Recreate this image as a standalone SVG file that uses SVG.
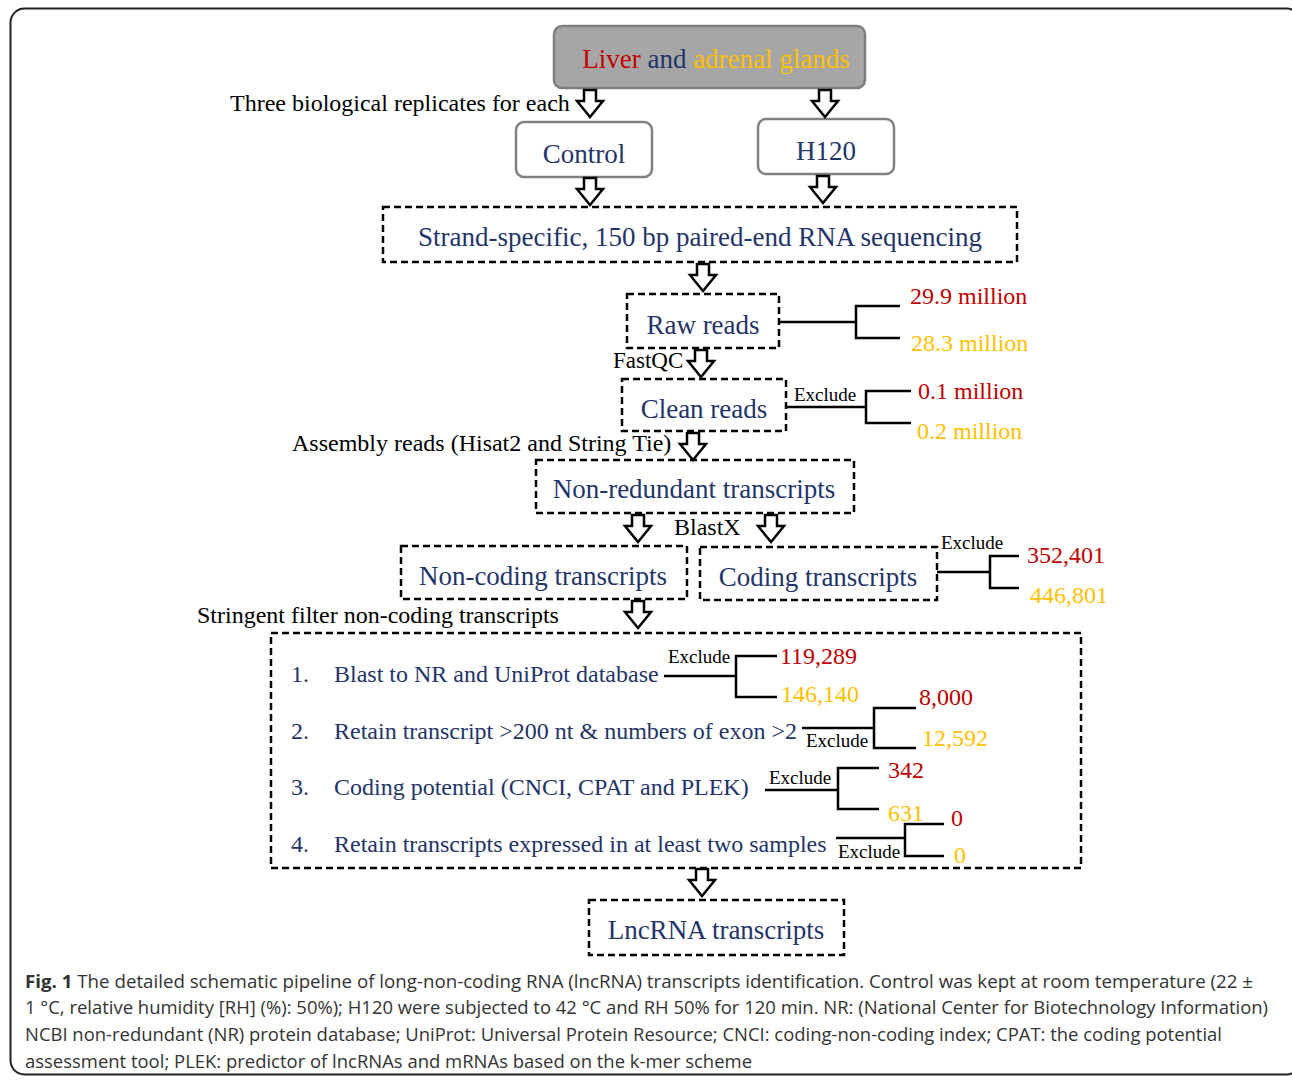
<svg xmlns="http://www.w3.org/2000/svg" xmlns:xlink="http://www.w3.org/1999/xlink" width="1292" height="1080" viewBox="0 0 1292 1080">
<style>
.ser{font-family:"Liberation Serif","Times New Roman",serif}
.blue{fill:#1f3469}
.red{fill:#c00000}
.org{fill:#ffc000}
.blk{fill:#000}
.dash{fill:none;stroke:#000;stroke-width:2.5;stroke-dasharray:7 4}
.solid{fill:#fff;stroke:#808080;stroke-width:2.5}
.ln{fill:none;stroke:#000;stroke-width:2.5}
.arr{fill:#fff;stroke:#000;stroke-width:2.5;stroke-linejoin:miter}
.cap{font-family:"Open Sans","Noto Sans",sans-serif;font-size:18px;fill:#333}
</style>
<defs>
<path id="arr" d="M-6,0 H6 V11 H13 L0,27 L-13,11 H-6 Z"/>
</defs>
<rect width="1292" height="1080" fill="#fff"/>
<rect x="10.5" y="8.5" width="1290" height="1066" rx="14" fill="none" stroke="#222" stroke-width="2"/>

<g id="n-source">
<rect x="554" y="26" width="311" height="62" rx="8" fill="#a6a6a6" stroke="#7f7f7f" stroke-width="2.5"/>
<text x="716" y="68" text-anchor="middle" class="ser" font-size="27"><tspan class="red">Liver</tspan><tspan class="blue"> and </tspan><tspan class="org">adrenal glands</tspan></text>
</g>
<g id="n-control">
<rect x="516" y="122" width="136" height="55" rx="8" class="solid"/>
<text x="584" y="163" text-anchor="middle" class="ser blue" font-size="27">Control</text>
</g>
<g id="n-h120">
<rect x="758" y="119" width="136" height="55" rx="8" class="solid"/>
<text x="826" y="160" text-anchor="middle" class="ser blue" font-size="27">H120</text>
</g>
<g id="n-seq">
<rect x="383" y="207" width="634" height="55" class="dash"/>
<text x="700" y="246" text-anchor="middle" class="ser blue" font-size="27">Strand-specific, 150 bp paired-end RNA sequencing</text>
</g>
<g id="n-raw">
<rect x="627" y="294" width="152" height="54" class="dash"/>
<text x="703" y="334" text-anchor="middle" class="ser blue" font-size="27">Raw reads</text>
</g>
<g id="n-clean">
<rect x="622" y="379" width="164" height="52" class="dash"/>
<text x="704" y="418" text-anchor="middle" class="ser blue" font-size="27">Clean reads</text>
</g>
<g id="n-nonred">
<rect x="536" y="460" width="318" height="53" class="dash"/>
<text x="694" y="498" text-anchor="middle" class="ser blue" font-size="27">Non-redundant transcripts</text>
</g>
<g id="n-noncoding">
<rect x="401" y="546" width="286" height="53" class="dash"/>
<text x="543" y="585" text-anchor="middle" class="ser blue" font-size="27">Non-coding transcripts</text>
</g>
<g id="n-coding">
<rect x="700" y="547" width="237" height="53" class="dash"/>
<text x="818" y="586" text-anchor="middle" class="ser blue" font-size="27">Coding transcripts</text>
</g>
<g id="n-filter">
<rect x="271" y="633" width="810" height="235" class="dash"/>
<g class="ser blue" font-size="24">
<text x="291" y="682">1.</text><text x="334" y="682">Blast to NR and UniProt database</text>
<text x="291" y="739">2.</text><text x="334" y="739">Retain transcript &gt;200 nt &amp; numbers of exon &gt;2</text>
<text x="291" y="795">3.</text><text x="334" y="795">Coding potential (CNCI, CPAT and PLEK)</text>
<text x="291" y="852">4.</text><text x="334" y="852">Retain transcripts expressed in at least two samples</text>
</g>
</g>
<g id="n-lncrna">
<rect x="589" y="900" width="255" height="55" class="dash"/>
<text x="716" y="939" text-anchor="middle" class="ser blue" font-size="27">LncRNA transcripts</text>
</g>

<g id="connectors">
<use xlink:href="#arr" class="arr" transform="translate(590,90)"/>
<use xlink:href="#arr" class="arr" transform="translate(825,90)"/>
<use xlink:href="#arr" class="arr" transform="translate(590,178)"/>
<use xlink:href="#arr" class="arr" transform="translate(823,176)"/>
<use xlink:href="#arr" class="arr" transform="translate(703,264)"/>
<use xlink:href="#arr" class="arr" transform="translate(701,350)"/>
<use xlink:href="#arr" class="arr" transform="translate(693,433)"/>
<use xlink:href="#arr" class="arr" transform="translate(638,515)"/>
<use xlink:href="#arr" class="arr" transform="translate(771,515)"/>
<use xlink:href="#arr" class="arr" transform="translate(638,601)"/>
<use xlink:href="#arr" class="arr" transform="translate(702,869)"/>
<path class="ln" d="M779,322 H856 M900,306 H856 V338 H900"/>
<path class="ln" d="M786,407 H866 M911,391 H866 V423 H911"/>
<path class="ln" d="M937,572 H990 M1019,556 H990 V588 H1019"/>
<path class="ln" d="M664,676 H736 M777,656 H736 V697 H777"/>
<path class="ln" d="M802,728 H874 M916,708 H874 V748 H916"/>
<path class="ln" d="M765,790 H838 M879,768 H838 V809 H879"/>
<path class="ln" d="M836,838 H905 M944,824 H905 V856 H944"/>
</g>

<g class="ser" font-size="24">
<text x="230" y="111" class="blk">Three biological replicates for each</text>
<text x="613" y="368" class="blk" font-size="23">FastQC</text>
<text x="292" y="451" class="blk">Assembly reads (Hisat2 and String Tie)</text>
<text x="674" y="535" class="blk">BlastX</text>
<text x="197" y="623" class="blk">Stringent filter non-coding transcripts</text>
<text x="910" y="304" class="red">29.9 million</text>
<text x="911" y="351" class="org">28.3 million</text>
<text x="918" y="399" class="red">0.1 million</text>
<text x="917" y="439" class="org">0.2 million</text>
<text x="1027" y="563" class="red">352,401</text>
<text x="1030" y="603" class="org">446,801</text>
<text x="780" y="664" class="red">119,289</text>
<text x="781" y="702" class="org">146,140</text>
<text x="919" y="705" class="red">8,000</text>
<text x="922" y="746" class="org">12,592</text>
<text x="888" y="778" class="red">342</text>
<text x="888" y="821" class="org">631</text>
<text x="951" y="826" class="red">0</text>
<text x="954" y="863" class="org">0</text>
</g>
<g class="ser blk" font-size="19">
<text x="794" y="401">Exclude</text>
<text x="941" y="549">Exclude</text>
<text x="668" y="663">Exclude</text>
<text x="806" y="747">Exclude</text>
<text x="769" y="784">Exclude</text>
<text x="838" y="858">Exclude</text>
</g>

<g id="caption" class="cap">
<text x="25" y="988" textLength="1228" lengthAdjust="spacingAndGlyphs"><tspan font-weight="bold">Fig. 1</tspan> The detailed schematic pipeline of long-non-coding RNA (lncRNA) transcripts identification. Control was kept at room temperature (22 ±</text>
<text x="25" y="1014" textLength="1243" lengthAdjust="spacingAndGlyphs">1 °C, relative humidity [RH] (%): 50%); H120 were subjected to 42 °C and RH 50% for 120 min. NR: (National Center for Biotechnology Information)</text>
<text x="25" y="1041" textLength="1197" lengthAdjust="spacingAndGlyphs">NCBI non-redundant (NR) protein database; UniProt: Universal Protein Resource; CNCI: coding-non-coding index; CPAT: the coding potential</text>
<text x="25" y="1068" textLength="727" lengthAdjust="spacingAndGlyphs">assessment tool; PLEK: predictor of lncRNAs and mRNAs based on the k-mer scheme</text>
</g>
</svg>
